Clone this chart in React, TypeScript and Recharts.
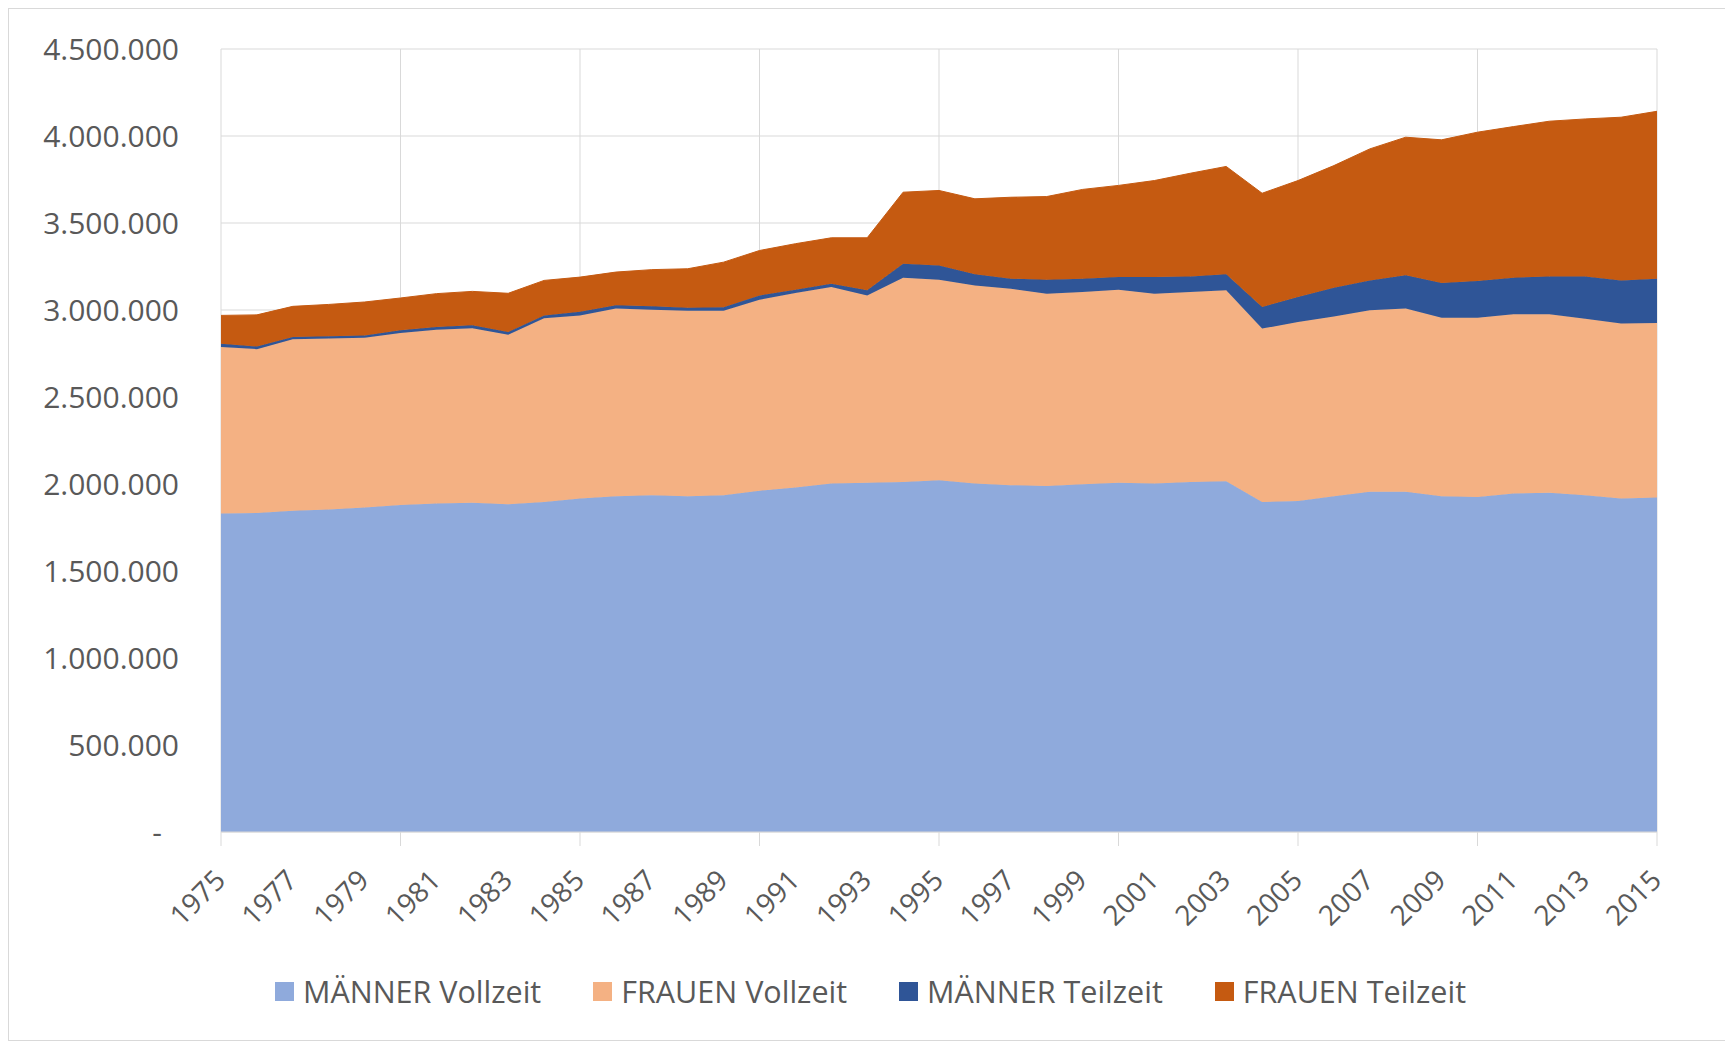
import React from 'react';
import { AreaChart, Area, XAxis, YAxis, CartesianGrid, Legend } from 'recharts';

const years = [
  1975, 1976, 1977, 1978, 1979, 1980, 1981, 1982, 1983, 1984,
  1985, 1986, 1987, 1988, 1989, 1990, 1991, 1992, 1993, 1994,
  1995, 1996, 1997, 1998, 1999, 2000, 2001, 2002, 2003, 2004,
  2005, 2006, 2007, 2008, 2009, 2010, 2011, 2012, 2013, 2014, 2015,
];

const maennerVollzeit = [
  1831000, 1834000, 1846000, 1854000, 1865000, 1880000, 1888000, 1892000, 1884000, 1897000,
  1917000, 1930000, 1936000, 1930000, 1936000, 1961000, 1980000, 2003000, 2007000, 2012000,
  2022000, 2003000, 1993000, 1989000, 1999000, 2007000, 2003000, 2012000, 2016000, 1897000,
  1903000, 1930000, 1955000, 1955000, 1930000, 1926000, 1946000, 1949000, 1936000, 1917000, 1923000,
];

const frauenVollzeit = [
  956000, 941000, 986000, 982000, 975000, 988000, 998000, 1003000, 974000, 1055000,
  1052000, 1078000, 1066000, 1065000, 1059000, 1098000, 1117000, 1129000, 1077000, 1174000,
  1152000, 1138000, 1129000, 1105000, 1104000, 1110000, 1091000, 1091000, 1097000, 996000,
  1028000, 1033000, 1043000, 1053000, 1026000, 1030000, 1029000, 1026000, 1014000, 1005000, 1002000,
];

const maennerTeilzeit = [
  19000, 15000, 13000, 13000, 14000, 15000, 16000, 17000, 16000, 17000,
  21000, 19000, 19000, 18000, 21000, 25000, 20000, 19000, 29000, 80000,
  82000, 64000, 58000, 80000, 77000, 72000, 95000, 90000, 92000, 124000,
  143000, 165000, 172000, 191000, 199000, 210000, 211000, 218000, 243000, 248000, 255000,
];

const frauenTeilzeit = [
  163000, 182000, 176000, 183000, 192000, 186000, 192000, 195000, 222000, 201000,
  199000, 191000, 211000, 224000, 259000, 258000, 264000, 264000, 302000, 411000,
  431000, 434000, 468000, 478000, 513000, 527000, 555000, 593000, 620000, 654000,
  670000, 702000, 756000, 794000, 823000, 856000, 868000, 892000, 905000, 938000, 962000,
];

const yTicks = [0, 500000, 1000000, 1500000, 2000000, 2500000, 3000000, 3500000, 4000000, 4500000];
const gridYears = [1975, 1980, 1985, 1990, 1995, 2000, 2005, 2010, 2015];

const series = [
  { key: 'mvz', name: 'MÄNNER Vollzeit', color: '#8FAADC' },
  { key: 'fvz', name: 'FRAUEN Vollzeit', color: '#F4B183' },
  { key: 'mtz', name: 'MÄNNER Teilzeit', color: '#2F5597' },
  { key: 'ftz', name: 'FRAUEN Teilzeit', color: '#C55A11' },
];

const data = years.map((year, i) => ({
  year,
  mvz: maennerVollzeit[i],
  fvz: frauenVollzeit[i],
  mtz: maennerTeilzeit[i],
  ftz: frauenTeilzeit[i],
}));

const FONT = "'Open Sans', sans-serif";
const TEXT = '#595959';
const GRID = '#d9d9d9';

const formatNumber = (v: number) =>
  v === 0 ? '-' : String(v).replace(/\B(?=(\d{3})+(?!\d))/g, '.');

const YTick = (props: any) => {
  const { x, y, payload } = props;
  const shift = payload.value === 0 ? 59 : 42;
  return (
    <text x={x - shift} y={y} dy="0.35em" textAnchor="end" fill={TEXT} fontSize={30} fontFamily={FONT}>
      {formatNumber(payload.value)}
    </text>
  );
};

const XTick = (props: any) => {
  const { x, y, payload } = props;
  const year = payload.value as number;
  return (
    <g>
      {year % 5 === 0 && <line x1={x} y1={y} x2={x} y2={y + 14} stroke={GRID} />}
      {year % 2 === 1 && (
        <text
          x={x + 6}
          y={y + 50}
          textAnchor="end"
          fill={TEXT}
          fontSize={28}
          fontFamily={FONT}
          transform={`rotate(-45, ${x + 6}, ${y + 50})`}
        >
          {year}
        </text>
      )}
    </g>
  );
};

const LegendContent = () => (
  <div
    style={{
      display: 'flex',
      justifyContent: 'center',
      alignItems: 'center',
      gap: 52,
      height: 40,
      fontFamily: FONT,
      fontSize: 30.5,
      color: TEXT,
    }}
  >
    {series.map((s) => (
      <div key={s.key} style={{ display: 'flex', alignItems: 'center' }}>
        <span style={{ display: 'inline-block', width: 19, height: 19, background: s.color, marginRight: 9 }} />
        <span>{s.name}</span>
      </div>
    ))}
  </div>
);

const App: React.FC = () => {
  return (
    <div style={{ width: 1725, height: 1033, border: '1px solid #d9d9d9', boxSizing: 'border-box', background: '#fff' }}>
      <AreaChart width={1723} height={1031} data={data} margin={{ top: 40, right: 75, left: 0, bottom: 29 }}>
        <XAxis
          xAxisId="main"
          dataKey="year"
          type="number"
          domain={[1975, 2015]}
          ticks={years}
          interval={0}
          height={139}
          tickLine={false}
          tickSize={0}
          tickMargin={0}
          axisLine={{ stroke: GRID }}
          tick={<XTick />}
        />
        <XAxis xAxisId="five" dataKey="year" type="number" domain={[1975, 2015]} ticks={gridYears} height={0} hide />
        <CartesianGrid xAxisId="five" stroke={GRID} ticks={yTicks} />
        <YAxis
          domain={[0, 4500000]}
          ticks={yTicks}
          interval={0}
          width={212}
          axisLine={false}
          tickLine={false}
          tickSize={0}
          tickMargin={0}
          tick={<YTick />}
        />
        {series.map((s) => (
          <Area
            key={s.key}
            xAxisId="main"
            type="linear"
            dataKey={s.key}
            name={s.name}
            stackId="1"
            stroke={s.color}
            strokeWidth={1}
            fill={s.color}
            fillOpacity={1}
            isAnimationActive={false}
          />
        ))}
        <Legend verticalAlign="bottom" height={40} content={<LegendContent />} wrapperStyle={{ left: 0, width: 1723 }} />
      </AreaChart>
    </div>
  );
};

export default App;
